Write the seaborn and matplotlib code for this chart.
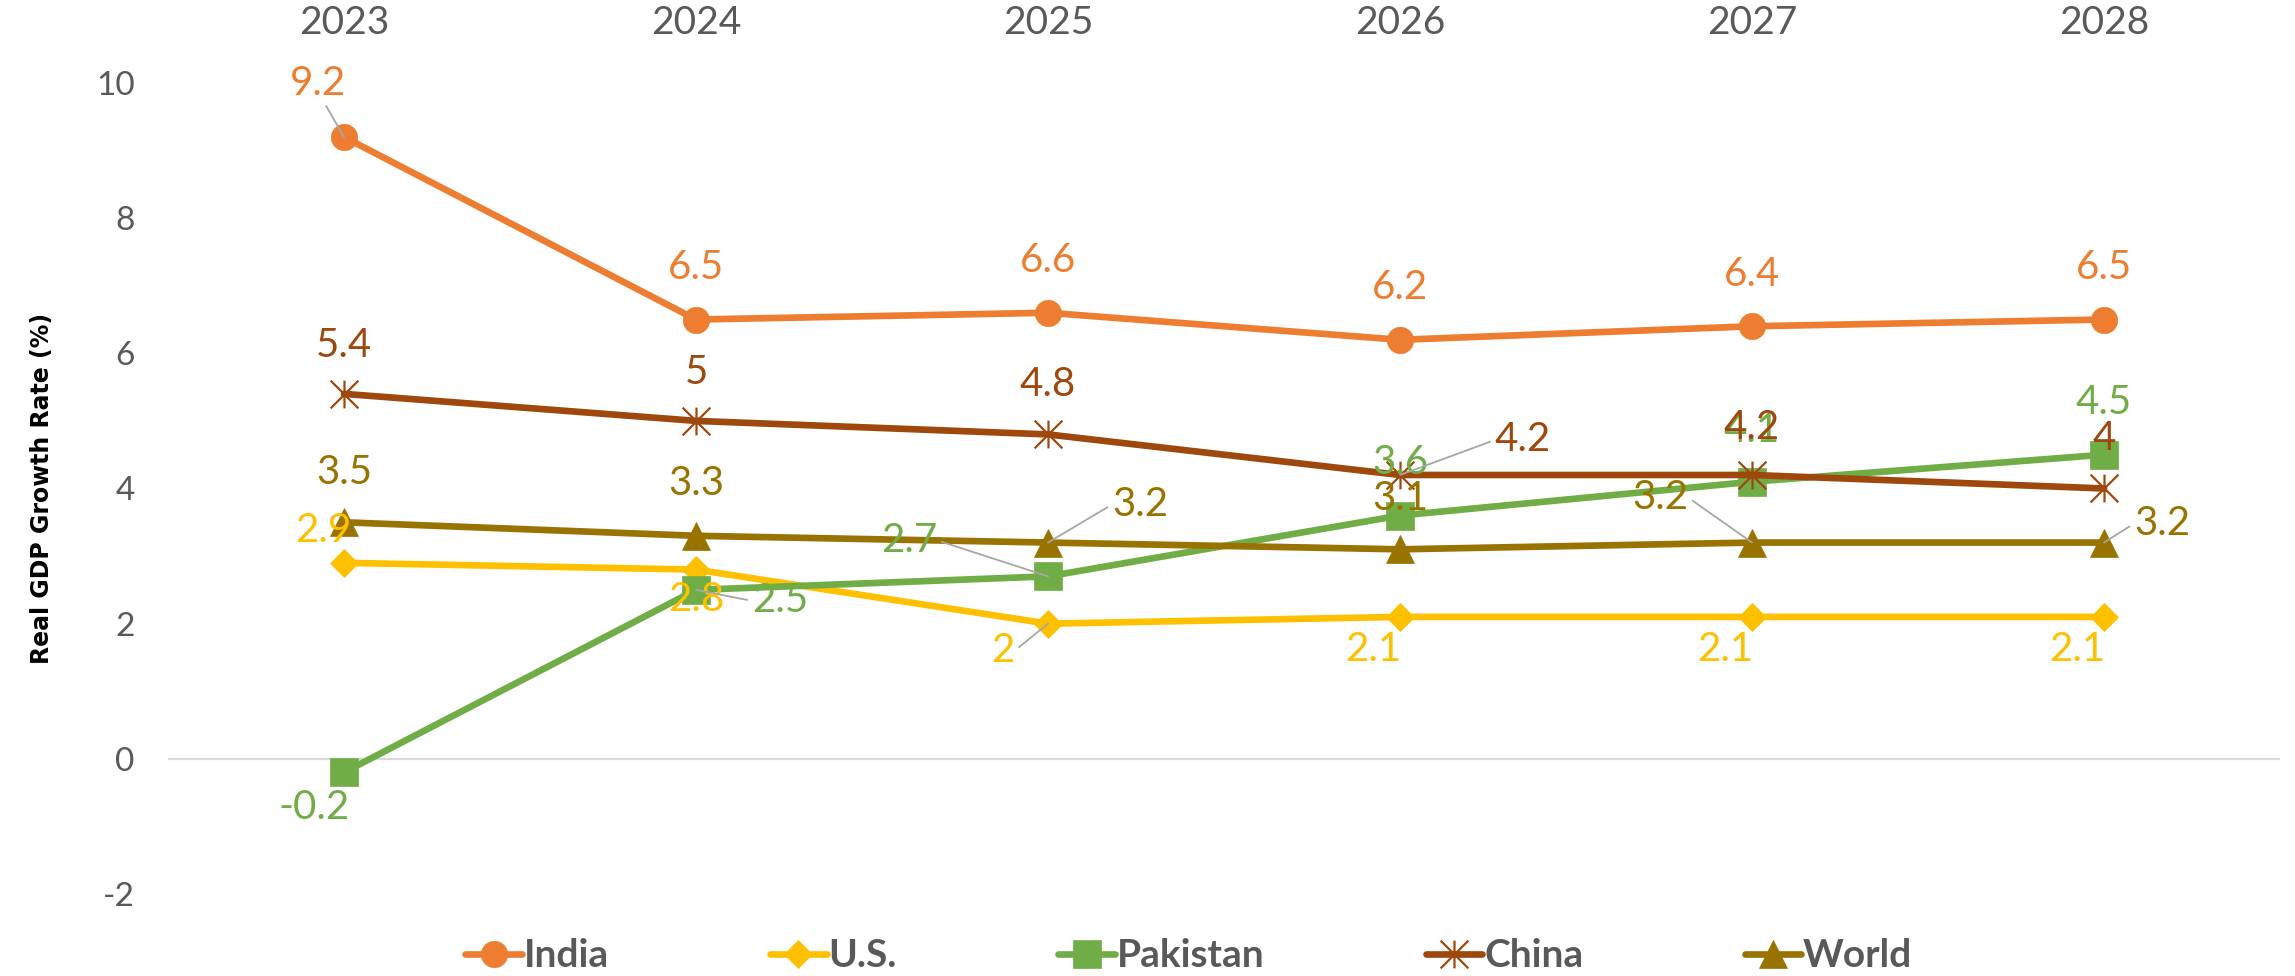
import numpy as np
import pandas as pd
import matplotlib
matplotlib.use("Agg")
import matplotlib.pyplot as plt
from matplotlib.path import Path
import seaborn as sns

# Dữ liệu tăng trưởng GDP thực (%)
years = [2023, 2024, 2025, 2026, 2027, 2028]
countries = ["India", "U.S.", "Pakistan", "China", "World"]
india = [9.2, 6.5, 6.6, 6.2, 6.4, 6.5]
us = [2.9, 2.8, 2.0, 2.1, 2.1, 2.1]
pakistan = [-0.2, 2.5, 2.7, 3.6, 4.1, 4.5]
china = [5.4, 5.0, 4.8, 4.2, 4.2, 4.0]
world = [3.5, 3.3, 3.2, 3.1, 3.2, 3.2]

df = pd.DataFrame({
    "year": years * len(countries),
    "country": np.repeat(countries, len(years)),
    "growth": india + us + pakistan + china + world,
})

# style
sns.set_theme(style="white")
plt.rcParams['font.family'] = ['Lato', 'DejaVu Sans']
plt.rcParams['axes.unicode_minus'] = False

colors = {"India": "#ED7D31", "U.S.": "#FFC000", "Pakistan": "#70AD47",
          "China": "#9E480E", "World": "#997300"}
star = Path([(0, -1), (0, 1), (-1, -1), (1, 1), (-1, 1), (1, -1)],
            [Path.MOVETO, Path.LINETO, Path.MOVETO, Path.LINETO, Path.MOVETO, Path.LINETO])
markers = {"India": ("o", 19), "U.S.": ("D", 14), "Pakistan": ("s", 19.5),
           "China": (star, 20), "World": ("^", 20)}

# label offsets in pixels (dx, dy up) and leader line anchor (None = no leader)
label_pos = {
    "India": [(-26, 54, (0.6, 0)), (0, 52, None), (0, 52, None), (0, 52, None), (0, 52, None), (0, 52, None)],
    "U.S.": [(-21, 32, None), (0, -30, None), (-45, -27, (1, 0.5)), (-27, -33, None), (-27, -33, None), (-27, -33, None)],
    "Pakistan": [(-30, -35, None), (84, -11, (0, 0.5)), (-139, 36, (1, 0.5)), (0, 53, None), (0, 51, None), (0, 52, None)],
    "China": [(0, 48, None), (0, 48, None), (0, 50, None), (123, 35, (0, 0.5)), (0, 47, None), (0, 50, None)],
    "World": [(0, 50, None), (0, 52, None), (92, 38, (0, 0.5)), (0, 51, None), (-92, 45, (1, 0.5)), (58, 19, (0, 0.5))],
}

fig, ax = plt.subplots(figsize=(22.95, 9.76), dpi=100)
fig.subplots_adjust(left=0.0732, right=0.9935, bottom=0.084, top=0.915)

ax.axhline(0, color="#D9D9D9", lw=1.6, zorder=0)

for c in countries:
    sub = df[df["country"] == c]
    m, ms = markers[c]
    kw = dict(mec=colors[c], mfc=colors[c], mew=0.5)
    if c == "China":
        kw = dict(mec=colors[c], mfc="none", mew=1.6)
    sns.lineplot(data=sub, x="year", y="growth", ax=ax, color=colors[c], lw=4.8,
                 marker=m, markersize=ms, label=c, errorbar=None, **kw)

for c in countries:
    sub = df[df["country"] == c]
    for (x, v), (dx, dy, rel) in zip(zip(sub["year"], sub["growth"]), label_pos[c]):
        arrow = None
        if rel is not None:
            arrow = dict(arrowstyle="-", color="#A6A6A6", lw=1.3, shrinkA=1, shrinkB=0, relpos=rel)
        ax.annotate(f"{v:g}", xy=(x, v), xytext=(dx, dy), textcoords="offset pixels",
                    ha="center", va="center", fontsize=29, color=colors[c],
                    arrowprops=arrow, zorder=10)

ax.set_xlim(2022.5, 2028.5)
ax.set_ylim(-2, 10)
ax.set_xticks(years)
ax.set_yticks(range(-2, 11, 2))
ax.xaxis.tick_top()
ax.tick_params(axis="x", length=0, pad=30, labelsize=28, labelcolor="#595959")
ax.tick_params(axis="y", length=0, pad=24, labelsize=24, labelcolor="#595959")
ax.set_xlabel("")
ax.set_ylabel("Real GDP Growth Rate (%)", fontsize=17, fontweight="bold", color="black",
              family="DejaVu Sans")
ax.yaxis.set_label_coords(-0.054, 0.5)
for s in ax.spines.values():
    s.set_visible(False)
ax.grid(False)

handles, labels = ax.get_legend_handles_labels()
ax.get_legend().remove()
fig.legend(handles, labels, loc="center", bbox_to_anchor=(0.518, 0.0205), ncol=5,
           frameon=False, handlelength=1.45, handletextpad=0.05, columnspacing=4.15,
           prop={"weight": "bold", "size": 28}, labelcolor="#595959")

plt.savefig("out.png", dpi=100)
